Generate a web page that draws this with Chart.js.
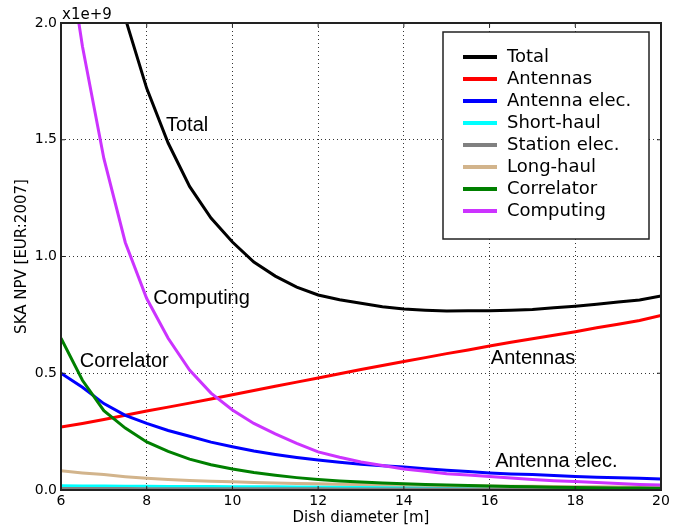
<!DOCTYPE html>
<html>
<head>
<meta charset="utf-8">
<script src="https://cdn.jsdelivr.net/npm/chart.js@4/dist/chart.umd.min.js"></script>
<style>
  html, body { margin: 0; padding: 0; background: #fff; }
  #wrap { width: 691px; height: 531px; }
</style>
</head>
<body>
<div id="wrap"><canvas id="chart" width="691" height="531"></canvas></div>
<script>
// dish diameter [m]
const dish = [6, 6.5, 7, 7.5, 8, 8.5, 9, 9.5, 10, 10.5, 11, 11.5, 12, 12.5, 13, 13.5, 14, 14.5, 15, 15.5, 16, 16.5, 17, 17.5, 18, 18.5, 19, 19.5, 20];

// costs in units of 1e9 EUR (2007)
const total = [4.0, 3.2, 2.55, 2.02, 1.72, 1.486, 1.30, 1.165, 1.062, 0.976, 0.916, 0.869, 0.835, 0.815, 0.80, 0.785, 0.775, 0.770, 0.767, 0.768, 0.768, 0.770, 0.773, 0.780, 0.787, 0.796, 0.805, 0.814, 0.831];
const antennas = [0.27, 0.285, 0.302, 0.32, 0.338, 0.355, 0.372, 0.39, 0.408, 0.426, 0.444, 0.462, 0.48, 0.498, 0.516, 0.533, 0.55, 0.567, 0.584, 0.60, 0.617, 0.633, 0.648, 0.663, 0.678, 0.695, 0.71, 0.726, 0.748];
const antennaElec = [0.50, 0.44, 0.37, 0.32, 0.285, 0.255, 0.23, 0.205, 0.185, 0.167, 0.152, 0.139, 0.128, 0.119, 0.11, 0.104, 0.098, 0.091, 0.085, 0.079, 0.073, 0.069, 0.066, 0.062, 0.058, 0.055, 0.052, 0.05, 0.047];
const shortHaul = [0.018, 0.017, 0.017, 0.016, 0.016, 0.015, 0.015, 0.015, 0.014, 0.014, 0.014, 0.013, 0.013, 0.013, 0.013, 0.012, 0.012, 0.012, 0.012, 0.012, 0.011, 0.011, 0.011, 0.011, 0.011, 0.011, 0.010, 0.010, 0.010];
const stationElec = [0.006, 0.006, 0.006, 0.006, 0.005, 0.005, 0.005, 0.005, 0.005, 0.005, 0.005, 0.005, 0.005, 0.004, 0.004, 0.004, 0.004, 0.004, 0.004, 0.004, 0.004, 0.004, 0.004, 0.004, 0.004, 0.004, 0.004, 0.004, 0.004];
const longHaul = [0.082, 0.073, 0.066, 0.057, 0.05, 0.045, 0.041, 0.038, 0.035, 0.032, 0.030, 0.028, 0.027, 0.025, 0.024, 0.022, 0.021, 0.020, 0.019, 0.018, 0.017, 0.016, 0.016, 0.015, 0.014, 0.014, 0.013, 0.013, 0.012];
const correlator = [0.65, 0.47, 0.34, 0.265, 0.206, 0.165, 0.132, 0.108, 0.09, 0.075, 0.063, 0.053, 0.045, 0.039, 0.034, 0.030, 0.027, 0.024, 0.021, 0.019, 0.017, 0.015, 0.014, 0.012, 0.011, 0.010, 0.009, 0.009, 0.008];
const computing = [2.5, 1.9, 1.42, 1.06, 0.82, 0.65, 0.514, 0.415, 0.343, 0.285, 0.24, 0.20, 0.163, 0.14, 0.12, 0.105, 0.09, 0.08, 0.07, 0.064, 0.058, 0.051, 0.045, 0.04, 0.036, 0.032, 0.028, 0.024, 0.021];

const seriesNames = ['Total', 'Antennas', 'Antenna elec.', 'Short-haul', 'Station elec.', 'Long-haul', 'Correlator', 'Computing'];
const seriesData = [total, antennas, antennaElec, shortHaul, stationElec, longHaul, correlator, computing];
const seriesColors = ['#000000', '#ff0000', '#0000ff', '#00ffff', '#808080', '#d2b48c', '#008000', '#cc33ff'];

// inline labels placed in data coordinates
const inlineLabels = [
  { text: 'Total', x: 8.45, y: 1.56 },
  { text: 'Computing', x: 8.15, y: 0.82 },
  { text: 'Correlator', x: 6.44, y: 0.55 },
  { text: 'Antennas', x: 16.03, y: 0.565 },
  { text: 'Antenna elec.', x: 16.13, y: 0.12 }
];

const datasets = seriesNames.map((name, i) => ({
  label: name,
  data: dish.map((d, k) => ({ x: d, y: seriesData[i][k] })),
  borderColor: seriesColors[i],
  backgroundColor: seriesColors[i],
  borderWidth: 3,
  pointRadius: 0,
  tension: 0,
  fill: false,
  order: seriesNames.length - i
}));

const decorations = {
  id: 'decorations',
  afterDatasetsDraw(chart) {
    const ctx = chart.ctx;
    const a = chart.chartArea;
    const xs = chart.scales.x, ys = chart.scales.y;

    // inline labels
    ctx.save();
    ctx.fillStyle = '#000';
    ctx.font = '20px "Liberation Sans", Arial, sans-serif';
    ctx.textBaseline = 'middle';
    ctx.textAlign = 'left';
    inlineLabels.forEach(l => ctx.fillText(l.text, xs.getPixelForValue(l.x), ys.getPixelForValue(l.y)));
    ctx.restore();

    // frame and inward ticks
    ctx.save();
    ctx.strokeStyle = '#222';
    ctx.lineWidth = 2;
    ctx.strokeRect(a.left, a.top, a.right - a.left, a.bottom - a.top);
    ctx.lineWidth = 1;
    ctx.beginPath();
    xs.ticks.forEach(t => {
      const px = xs.getPixelForValue(t.value);
      ctx.moveTo(px, a.bottom); ctx.lineTo(px, a.bottom - 4);
      ctx.moveTo(px, a.top); ctx.lineTo(px, a.top + 4);
    });
    ys.ticks.forEach(t => {
      const py = ys.getPixelForValue(t.value);
      ctx.moveTo(a.left, py); ctx.lineTo(a.left + 4, py);
      ctx.moveTo(a.right, py); ctx.lineTo(a.right - 4, py);
    });
    ctx.stroke();
    ctx.restore();

    // multiplier text
    ctx.save();
    ctx.fillStyle = '#000';
    ctx.font = '15px "DejaVu Sans", sans-serif';
    ctx.textAlign = 'left';
    ctx.textBaseline = 'alphabetic';
    ctx.fillText('x1e+9', a.left + 1, a.top - 4);
    ctx.restore();

    // axis titles
    ctx.save();
    ctx.fillStyle = '#000';
    ctx.font = '15px "DejaVu Sans", sans-serif';
    ctx.textAlign = 'center';
    ctx.textBaseline = 'middle';
    ctx.fillText('Dish diameter [m]', (a.left + a.right) / 2, a.bottom + 28);
    ctx.translate(a.left - 39, (a.top + a.bottom) / 2);
    ctx.rotate(-Math.PI / 2);
    ctx.fillText('SKA NPV [EUR:2007]', 0, 0);
    ctx.restore();

    // legend box
    const bx = 443, by = a.top + 9, bw = a.right - 12 - bx, bh = 207;
    ctx.save();
    ctx.fillStyle = '#fff';
    ctx.fillRect(bx, by, bw, bh);
    ctx.strokeStyle = '#222';
    ctx.lineWidth = 1.5;
    ctx.strokeRect(bx, by, bw, bh);
    ctx.font = '18px "DejaVu Sans", sans-serif';
    ctx.textAlign = 'left';
    ctx.textBaseline = 'middle';
    seriesNames.forEach((name, i) => {
      const ry = by + 25 + i * 22;
      ctx.strokeStyle = seriesColors[i];
      ctx.lineWidth = 4;
      ctx.beginPath();
      ctx.moveTo(bx + 20, ry);
      ctx.lineTo(bx + 54, ry);
      ctx.stroke();
      ctx.fillStyle = '#000';
      ctx.fillText(name, bx + 64, ry);
    });
    ctx.restore();
  }
};

new Chart(document.getElementById('chart'), {
  type: 'line',
  data: { datasets },
  options: {
    responsive: false,
    animation: false,
    layout: { padding: { left: 0, top: 23, right: 30, bottom: 0 } },
    plugins: { legend: { display: false }, tooltip: { enabled: false } },
    scales: {
      x: {
        type: 'linear',
        min: 6, max: 20,
        border: { display: false, dash: [1, 3] },
        grid: { color: '#000', lineWidth: 0.8, drawTicks: false },
        ticks: {
          stepSize: 2, padding: 3, color: '#000',
          font: { family: '"DejaVu Sans", sans-serif', size: 14 }
        },
        afterFit(s) { s.height = 41; }
      },
      y: {
        min: 0, max: 2,
        border: { display: false, dash: [1, 3] },
        grid: { color: '#000', lineWidth: 0.8, drawTicks: false },
        ticks: {
          stepSize: 0.5, padding: 4, color: '#000',
          font: { family: '"DejaVu Sans", sans-serif', size: 14 },
          callback: v => v.toFixed(1)
        },
        afterFit(s) { s.width = 61; }
      }
    }
  },
  plugins: [decorations]
});
</script>
</body>
</html>
